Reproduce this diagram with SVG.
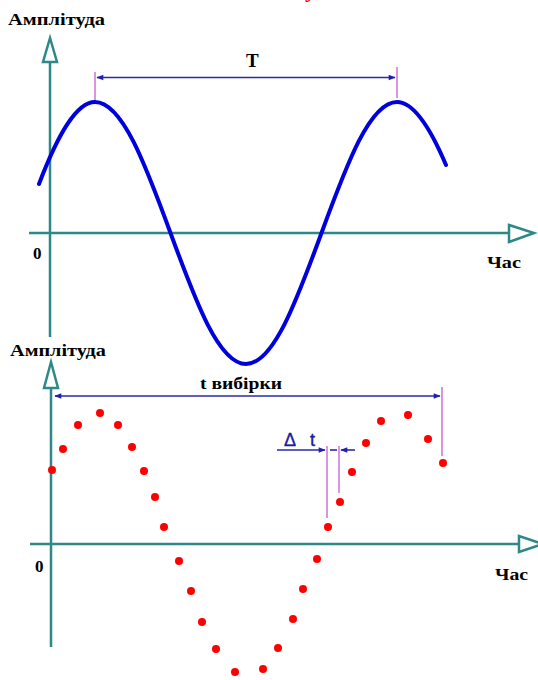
<svg xmlns="http://www.w3.org/2000/svg" width="538" height="680" viewBox="0 0 538 680">
<defs>
<style>
.axis{stroke:#2f8888;stroke-width:2.5;fill:none}
.ahead{stroke:#2f8888;stroke-width:2.5;fill:#fff;stroke-linejoin:miter}
.dim{stroke:#2a2aa8;stroke-width:1.6;fill:none}
.tick{stroke:#d27ad8;stroke-width:1.6}
.lbl{font-family:"Liberation Serif","Times New Roman",serif;font-weight:bold;fill:#000}
.dot{fill:#ff0000}
</style>
<marker id="arr" viewBox="0 0 10 10" refX="9" refY="5" markerWidth="8" markerHeight="7" markerUnits="userSpaceOnUse" orient="auto-start-reverse">
<path d="M0,1 L10,5 L0,9 Z" fill="#2020b0"/>
</marker>
</defs>
<rect width="538" height="680" fill="#fff"/>
<text x="305" y="-3" font-family="Liberation Serif,serif" font-weight="bold" font-size="22" fill="#ff0000">у</text>

<g id="top-chart">
<g id="top-axes">
<line class="axis" x1="50" y1="62" x2="50" y2="337"/>
<polygon class="ahead" points="50,38 43,62 57,62"/>
<line class="axis" x1="29" y1="233" x2="509" y2="233"/>
<polygon class="ahead" points="509,225 509,242 534,233"/>
</g>
<text class="lbl" x="8" y="25" font-size="17" textLength="97" lengthAdjust="spacingAndGlyphs">Амплітуда</text>
<text class="lbl" x="33" y="259" font-size="17">0</text>
<text class="lbl" x="487" y="268" font-size="16" textLength="34" lengthAdjust="spacingAndGlyphs">Час</text>
<path id="sine" d="M39,184 C57.67,135 76.33,102 95,102 C122.17,102 145.27,164.21 170.5,233 C195.74,301.79 218.83,364 246,364 C273.17,364 296.27,301.79 321.5,233 C346.74,164.21 369.83,102 397,102 C413.33,102 429.67,126.5 446,165" fill="none" stroke="#0000dd" stroke-width="4" stroke-linecap="round" stroke-linejoin="round"/>
<g id="period">
<line class="tick" x1="95" y1="72" x2="95" y2="100"/>
<line class="tick" x1="397" y1="67" x2="397" y2="98"/>
<line class="dim" x1="97" y1="77.5" x2="395" y2="77.5" marker-start="url(#arr)" marker-end="url(#arr)"/>
<text class="lbl" x="246" y="67" font-size="19">T</text>
</g>
</g>

<g id="bottom-chart">
<g id="bottom-axes">
<line class="axis" x1="51" y1="388" x2="51" y2="647"/>
<polygon class="ahead" points="51,362 44,388 58,388"/>
<line class="axis" x1="30" y1="544" x2="519" y2="544"/>
<polygon class="ahead" points="519,536 519,552 543,544"/>
</g>
<text class="lbl" x="10" y="356" font-size="17" textLength="96" lengthAdjust="spacingAndGlyphs">Амплітуда</text>
<text class="lbl" x="35" y="572" font-size="17">0</text>
<text class="lbl" x="495" y="580" font-size="16" textLength="33" lengthAdjust="spacingAndGlyphs">Час</text>
<g id="samples">
<circle class="dot" cx="52" cy="470" r="4"/>
<circle class="dot" cx="63" cy="449" r="4"/>
<circle class="dot" cx="78" cy="425" r="4"/>
<circle class="dot" cx="100" cy="413" r="4"/>
<circle class="dot" cx="118" cy="425" r="4"/>
<circle class="dot" cx="132" cy="447" r="4"/>
<circle class="dot" cx="144" cy="471" r="4"/>
<circle class="dot" cx="155" cy="497" r="4"/>
<circle class="dot" cx="164" cy="527" r="4"/>
<circle class="dot" cx="179" cy="561" r="4"/>
<circle class="dot" cx="191" cy="591" r="4"/>
<circle class="dot" cx="202" cy="622" r="4"/>
<circle class="dot" cx="216" cy="649" r="4"/>
<circle class="dot" cx="235" cy="672" r="4"/>
<circle class="dot" cx="263" cy="669" r="4"/>
<circle class="dot" cx="278" cy="648" r="4"/>
<circle class="dot" cx="293" cy="619" r="4"/>
<circle class="dot" cx="303" cy="589" r="4"/>
<circle class="dot" cx="317" cy="559" r="4"/>
<circle class="dot" cx="328" cy="527" r="4"/>
<circle class="dot" cx="340" cy="502" r="4"/>
<circle class="dot" cx="352" cy="472" r="4"/>
<circle class="dot" cx="366" cy="443" r="4"/>
<circle class="dot" cx="381" cy="421" r="4"/>
<circle class="dot" cx="408" cy="415" r="4"/>
<circle class="dot" cx="428" cy="439" r="4"/>
<circle class="dot" cx="443" cy="463" r="4"/>
</g>
<g id="window">
<line class="tick" x1="442" y1="387" x2="442" y2="456"/>
<line class="dim" x1="55" y1="396" x2="440" y2="396" marker-start="url(#arr)" marker-end="url(#arr)"/>
<text class="lbl" x="200" y="389" font-size="16" textLength="82" lengthAdjust="spacingAndGlyphs">t вибірки</text>
</g>
<g id="delta">
<line class="tick" x1="327" y1="446" x2="327" y2="518"/>
<line class="tick" x1="339" y1="446" x2="339" y2="493"/>
<line class="dim" x1="277" y1="450" x2="325" y2="450" marker-end="url(#arr)"/>
<line class="dim" x1="330" y1="450" x2="337" y2="450"/>
<line class="dim" x1="355" y1="450" x2="341" y2="450" marker-end="url(#arr)"/>
<text x="284" y="446" font-family="Liberation Sans,Arial,sans-serif" font-size="18" fill="#1a1aa0" stroke="#1a1aa0" stroke-width="0.4" textLength="31" lengthAdjust="spacing">Δ t</text>
</g>
</g>
</svg>
